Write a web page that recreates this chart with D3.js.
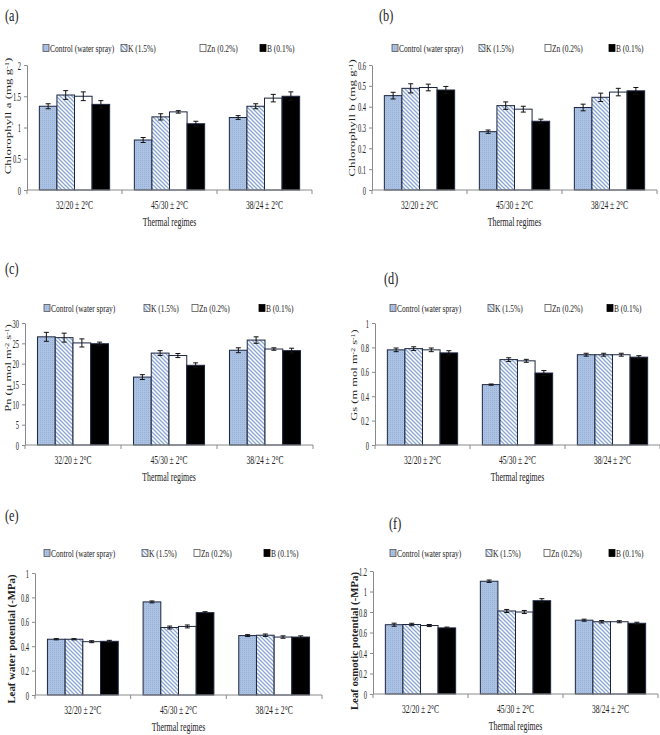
<!DOCTYPE html>
<html><head><meta charset="utf-8">
<script src="https://cdn.jsdelivr.net/npm/d3@7/dist/d3.min.js"></script>
<style>
html,body{margin:0;padding:0;background:#fff;}
svg text{font-family:"Liberation Serif","Times New Roman",serif;fill:#222;}
</style></head>
<body>
<svg id="chart" width="660" height="735"></svg>
<script>
// ---------- DATA ----------
const categories = ["32/20 \u00b1 2\u00b0C", "45/30 \u00b1 2\u00b0C", "38/24 \u00b1 2\u00b0C"];
const seriesNames = ["Control (water spray)", "K (1.5%)", "Zn (0.2%)", "B (0.1%)"];
const xTitle = "Thermal regimes";

// values: one row per thermal regime, one entry per treatment
const chlA     = [[1.34, 1.52, 1.50, 1.37], [0.80, 1.17, 1.25, 1.06], [1.16, 1.34, 1.47, 1.50]];
const chlAErr  = [[0.04, 0.07, 0.07, 0.06], [0.04, 0.05, 0.02, 0.04], [0.03, 0.04, 0.06, 0.07]];
const chlATicks = [0, 0.5, 1, 1.5, 2];

const chlB     = [[0.453, 0.488, 0.492, 0.480], [0.280, 0.405, 0.388, 0.330], [0.396, 0.445, 0.470, 0.476]];
const chlBErr  = [[0.016, 0.022, 0.016, 0.017], [0.008, 0.018, 0.014, 0.010], [0.016, 0.020, 0.018, 0.016]];
const chlBTicks = [0, 0.1, 0.2, 0.3, 0.4, 0.5, 0.6];

const pn       = [[26.6, 26.4, 25.1, 24.9], [16.7, 22.6, 22.0, 19.6], [23.3, 25.8, 23.6, 23.2]];
const pnErr    = [[1.1, 1.1, 1.0, 0.4], [0.6, 0.6, 0.5, 0.6], [0.6, 0.8, 0.3, 0.6]];
const pnTicks  = [0, 5, 10, 15, 20, 25, 30];

const gs       = [[0.780, 0.790, 0.780, 0.755], [0.495, 0.700, 0.690, 0.590], [0.740, 0.740, 0.740, 0.720]];
const gsErr    = [[0.015, 0.015, 0.015, 0.018], [0.005, 0.015, 0.012, 0.020], [0.012, 0.012, 0.012, 0.012]];
const gsTicks  = [0, 0.2, 0.4, 0.6, 0.8, 1];

const lwp      = [[0.457, 0.457, 0.437, 0.440], [0.763, 0.553, 0.562, 0.675], [0.487, 0.490, 0.475, 0.475]];
const lwpErr   = [[0.005, 0.005, 0.008, 0.008], [0.008, 0.012, 0.012, 0.008], [0.008, 0.010, 0.010, 0.010]];
const lwpTicks = [0, 0.2, 0.4, 0.6, 0.8, 1];

const lop      = [[0.676, 0.678, 0.668, 0.645], [1.100, 0.810, 0.800, 0.910], [0.720, 0.705, 0.705, 0.690]];
const lopErr   = [[0.015, 0.012, 0.010, 0.008], [0.012, 0.015, 0.015, 0.020], [0.010, 0.012, 0.010, 0.010]];
const lopTicks = [0, 0.2, 0.4, 0.6, 0.8, 1, 1.2];

const panelLetters = ["(a)", "(b)", "(c)", "(d)", "(e)", "(f)"];
// y-axis titles: [text, superscript?] pieces
const yTitles = [
  [["Chlorophyll a (mg g"], ["-1", true], [")"]],
  [["Chlorophyll b (mg g"], ["-1", true], [")"]],
  [["Pn (\u03bc mol m"], ["-2", true], [" s"], ["-1", true], [")"]],
  [["Gs (m mol m"], ["-2", true], [" s"], ["-1", true], [")"]],
  [["Leaf water potential (-MPa)"]],
  [["Leaf osmotic potential (-MPa)"]]
];

// ---------- LAYOUT ----------
const panels = [
  {v: chlA, e: chlAErr, t: chlATicks, x0: 27,  x1: 312, yb: 190, yt: 65,  lx: [19, 97, 176, 236],  ly: 48,  px: 5,   py: 21,  yx: 11,  yc: 116, ys: 13,   bold: false},
  {v: chlB, e: chlBErr, t: chlBTicks, x0: 372, x1: 657, yb: 190, yt: 65,  lx: [23, 110, 176, 240], ly: 48,  px: 379, py: 21,  yx: 355, yc: 118, ys: 13,   bold: false},
  {v: pn,   e: pnErr,   t: pnTicks,   x0: 25,  x1: 313, yb: 445, yt: 323, lx: [22, 122, 170, 237], ly: 308, px: 5,   py: 274, yx: 11,  yc: 368, ys: 12.5, bold: false},
  {v: gs,   e: gsErr,   t: gsTicks,   x0: 375, x1: 660, yb: 445, yt: 323, lx: [18, 116, 173, 235], ly: 308, px: 384, py: 284, yx: 357, yc: 375, ys: 12.5, bold: false},
  {v: lwp,  e: lwpErr,  t: lwpTicks,  x0: 35,  x1: 322, yb: 695, yt: 573, lx: [12, 110, 162, 232], ly: 553, px: 5,   py: 521, yx: 15,  yc: 639, ys: 10.8, bold: true},
  {v: lop,  e: lopErr,  t: lopTicks,  x0: 373, x1: 658, yb: 694, yt: 571, lx: [20, 116, 174, 239], ly: 553, px: 389, py: 529, yx: 358, yc: 641, ys: 10.8, bold: true}
];

const svg = d3.select("#chart");
const defs = svg.append("defs");

// Control: light blue fine texture
const pc = defs.append("pattern").attr("id", "pCtrl").attr("patternUnits", "userSpaceOnUse")
  .attr("width", 2).attr("height", 2);
pc.append("rect").attr("width", 2).attr("height", 2).attr("fill", "#abc2e3");
pc.append("rect").attr("width", 1).attr("height", 1).attr("fill", "#96b0d9");
// K: diagonal blue hatching
const pk = defs.append("pattern").attr("id", "pK").attr("patternUnits", "userSpaceOnUse")
  .attr("width", 4).attr("height", 4);
pk.append("rect").attr("width", 4).attr("height", 4).attr("fill", "#ffffff");
pk.append("path").attr("d", "M-1,-1 L5,5 M-1,3 L1,5 M3,-1 L5,1")
  .attr("stroke", "#8aa6d4").attr("stroke-width", 1.3);

const fills = ["url(#pCtrl)", "url(#pK)", "#ffffff", "#000000"];
const strokeCol = "#1d2640";
const axisCol = "#8a8a8a";
const TICKSX = 0.52;

// condensed text helper
function ctext(parent, x, y, str, size, anchor, sx) {
  return parent.append("text")
    .attr("transform", `translate(${x},${y}) scale(${sx},1)`)
    .attr("text-anchor", anchor || "start").attr("font-size", size).text(str);
}

panels.forEach((p, i) => {
  const g = svg.append("g");
  const x = d3.scaleBand().domain(categories).range([p.x0, p.x1]).paddingInner(0.26).paddingOuter(0.13);
  const xs = d3.scaleBand().domain(seriesNames).range([0, x.bandwidth()]).padding(0);
  const ymax = p.t[p.t.length - 1];
  const y = d3.scaleLinear().domain([0, ymax]).range([p.yb, p.yt]);

  // bars
  categories.forEach((c, ci) => {
    seriesNames.forEach((s, si) => {
      const val = p.v[ci][si];
      const bx = x(c) + xs(s);
      g.append("rect").attr("x", bx).attr("y", y(val))
        .attr("width", xs.bandwidth()).attr("height", y(0) - y(val))
        .attr("fill", fills[si]).attr("stroke", strokeCol).attr("stroke-width", 1);
      const err = p.e[ci][si];
      const cx = bx + xs.bandwidth() / 2;
      const eg = g.append("g").attr("stroke", "#111").attr("stroke-width", 1);
      eg.append("line").attr("x1", cx).attr("x2", cx).attr("y1", y(val + err)).attr("y2", y(val - err));
      eg.append("line").attr("x1", cx - 2.5).attr("x2", cx + 2.5).attr("y1", y(val + err)).attr("y2", y(val + err));
      eg.append("line").attr("x1", cx - 2.5).attr("x2", cx + 2.5).attr("y1", y(val - err)).attr("y2", y(val - err));
    });
  });

  // y axis
  const ya = g.append("g").attr("transform", `translate(${p.x0},0)`)
    .call(d3.axisLeft(y).tickValues(p.t).tickSize(3).tickPadding(3).tickSizeOuter(0).tickFormat(d => String(d)));
  ya.select(".domain").attr("stroke", axisCol);
  ya.selectAll(".tick line").attr("stroke", axisCol);
  ya.selectAll(".tick text").attr("font-size", 12.5).attr("fill", "#222")
    .attr("font-family", "'Liberation Serif','Times New Roman',serif")
    .attr("x", -6 / TICKSX).attr("transform", `scale(${TICKSX},1)`);

  // x axis
  const xa = g.append("g").attr("transform", `translate(0,${p.yb})`);
  xa.append("line").attr("x1", p.x0).attr("x2", p.x1).attr("y1", 0).attr("y2", 0).attr("stroke", axisCol);
  const bounds = [p.x0].concat(categories.map(c => x(c) + x.bandwidth() + x.step() * 0.13));
  bounds.forEach(bx => xa.append("line").attr("x1", bx).attr("x2", bx).attr("y1", 0).attr("y2", 4).attr("stroke", axisCol));
  categories.forEach(c => ctext(xa, x(c) + x.bandwidth() / 2, 19, c, 11.5, "middle", 0.66));
  ctext(xa, (p.x0 + p.x1) / 2, 36, xTitle, 12.5, "middle", 0.63);

  // legend
  seriesNames.forEach((s, si) => {
    const lx = p.x0 + p.lx[si];
    g.append("rect").attr("x", lx - 3).attr("y", p.ly - 3.5).attr("width", 6).attr("height", 7)
      .attr("fill", fills[si]).attr("stroke", si === 3 ? "#000" : "#555").attr("stroke-width", 0.8);
    ctext(g, lx + 4, p.ly + 4, s, 11, "start", 0.68);
  });

  // panel letter
  ctext(svg, p.px, p.py, panelLetters[i], 17, "start", 0.72);

  // y title (rotated; glyph height condensed)
  const yt = svg.append("text")
    .attr("transform", `translate(${p.yx},${p.yc}) scale(${p.bold ? 0.9 : 0.66},1) rotate(-90)`)
    .attr("text-anchor", "middle").attr("font-size", p.ys)
    .attr("font-weight", p.bold ? "bold" : "normal");
  yTitles[i].forEach(piece => {
    const ts = yt.append("tspan").text(piece[0].replace(/ /g, "\u00a0"));
    if (piece[1]) ts.attr("baseline-shift", "super").attr("font-size", p.ys * 0.62);
  });
});
</script>
</body></html>
